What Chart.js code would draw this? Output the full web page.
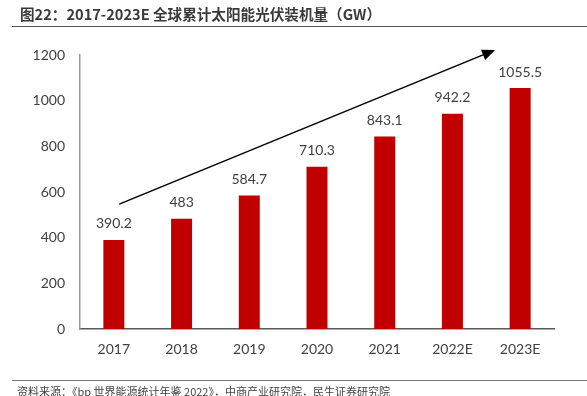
<!DOCTYPE html>
<html>
<head>
<meta charset="utf-8">
<script src="https://cdn.jsdelivr.net/npm/chart.js@4/dist/chart.umd.min.js"></script>
<style>
  html, body { margin: 0; padding: 0; background: #fff; }
  #wrap { position: relative; width: 587px; height: 396px; overflow: hidden; }
  #c { position: absolute; left: 0; top: 0; }
  #title { position: absolute; left: 20px; top: 4px; font: bold 14.6px "Noto Sans CJK SC", sans-serif; color: #3a3a3a; white-space: nowrap; line-height: 20px; }
  #tline { position: absolute; left: 12px; top: 26px; width: 575px; height: 0; border-top: 1px solid #555; }
  #bline { position: absolute; left: 12px; top: 380px; width: 575px; height: 0; border-top: 1px solid #777; }
  #source { position: absolute; left: 17px; top: 383px; font: 11px "Noto Sans CJK SC", sans-serif; color: #444; white-space: nowrap; line-height: 16px; }
</style>
</head>
<body>
<div id="wrap">
  <canvas id="c" width="587" height="396"></canvas>
  <div id="title">图22：2017-2023E 全球累计太阳能光伏装机量（GW）</div>
  <div id="tline"></div>
  <div id="bline"></div>
  <div id="source">资料来源：《bp 世界能源统计年鉴 2022》，中商产业研究院，民生证券研究院</div>
</div>
<script>
const categories = ["2017", "2018", "2019", "2020", "2021", "2022E", "2023E"];
const capacityGW = [390.2, 483, 584.7, 710.3, 843.1, 942.2, 1055.5];
const valueLabels = ["390.2", "483", "584.7", "710.3", "843.1", "942.2", "1055.5"];
// trend arrow endpoints in data terms: [category index, value]
const arrowStart = [0.08, 547];
const arrowEnd = [5.63, 1222];

const labelPlugin = {
  id: 'valueLabels',
  afterDatasetsDraw(chart) {
    const ctx = chart.ctx;
    const meta = chart.getDatasetMeta(0);
    ctx.save();
    ctx.font = '14px Lato, "Open Sans", sans-serif';
    ctx.fillStyle = '#404040';
    ctx.textAlign = 'center';
    ctx.textBaseline = 'middle';
    meta.data.forEach((bar, i) => {
      ctx.fillText(valueLabels[i], bar.x, bar.y - 16);
    });
    ctx.restore();
  }
};

const arrowPlugin = {
  id: 'trendArrow',
  afterDatasetsDraw(chart) {
    const xs = chart.scales.x, ys = chart.scales.y;
    const x0 = xs.getPixelForValue(arrowStart[0]), y0 = ys.getPixelForValue(arrowStart[1]);
    const x1 = xs.getPixelForValue(arrowEnd[0]), y1 = ys.getPixelForValue(arrowEnd[1]);
    const ctx = chart.ctx;
    const ang = Math.atan2(y1 - y0, x1 - x0);
    const hl = 13, hw = 5.5;
    const bx = x1 - hl * Math.cos(ang), by = y1 - hl * Math.sin(ang);
    ctx.save();
    ctx.strokeStyle = '#000';
    ctx.fillStyle = '#000';
    ctx.lineWidth = 1.5;
    ctx.beginPath();
    ctx.moveTo(x0, y0);
    ctx.lineTo(bx, by);
    ctx.stroke();
    ctx.beginPath();
    ctx.moveTo(x1, y1);
    ctx.lineTo(bx + hw * Math.sin(ang), by - hw * Math.cos(ang));
    ctx.lineTo(bx - hw * Math.sin(ang), by + hw * Math.cos(ang));
    ctx.closePath();
    ctx.fill();
    ctx.restore();
  }
};

new Chart(document.getElementById('c'), {
  type: 'bar',
  data: {
    labels: categories,
    datasets: [{
      data: capacityGW,
      backgroundColor: '#c00000',
      borderWidth: 0,
      barPercentage: 0.31,
      categoryPercentage: 1.0
    }]
  },
  options: {
    responsive: false,
    animation: false,
    devicePixelRatio: 1,
    layout: { padding: { left: 0, top: 55, right: 33, bottom: 0 } },
    plugins: { legend: { display: false }, tooltip: { enabled: false } },
    scales: {
      x: {
        grid: { display: false, drawTicks: false },
        border: { display: true, color: '#595959', width: 1.5 },
        ticks: { color: '#404040', font: { size: 14, family: 'Lato, "Open Sans", sans-serif' }, padding: 12, maxRotation: 0 },
        afterFit(scale) { scale.height = 67; }
      },
      y: {
        min: 0, max: 1200,
        grid: { display: false, drawTicks: false },
        border: { display: true, color: '#999', width: 1.5 },
        ticks: { stepSize: 200, color: '#404040', font: { size: 14, family: 'Lato, "Open Sans", sans-serif' }, padding: 15,
                 callback: (v) => String(v) },
        afterFit(scale) { scale.width = 80; }
      }
    }
  },
  plugins: [labelPlugin, arrowPlugin]
});
</script>
</body>
</html>
